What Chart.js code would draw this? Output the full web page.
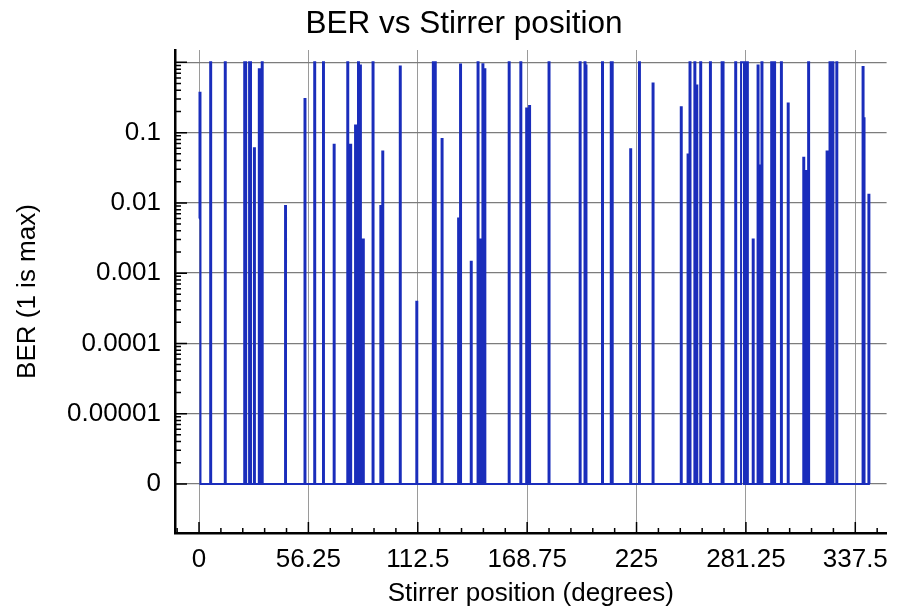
<!DOCTYPE html>
<html lang="en">
<head>
<meta charset="UTF-8">
<title>BER vs Stirrer position</title>
<script src="https://cdn.jsdelivr.net/npm/chart.js"></script>
<style>
    body { margin: 0; background: #fff; }
</style>
</head>
<body>
<canvas id="berChart" width="899" height="612"></canvas>
<script>
// the stirrer was stepped in half degrees; spikes, every other step has BER = 0
const spikePositions = [0, 0.5, 6, 13.5, 23.5, 24, 26, 26.5, 28.5, 31, 32.5, 44.5, 54.5, 59.5, 64, 69.5, 76.5, 78,
    80.5, 82, 83, 84.5, 89.5, 93.5, 94.5, 103.5, 112, 120.5, 121.5, 125, 133.5, 134.5, 140, 143.5, 145, 146, 147,
    159.5, 165.5, 168.5, 170, 180, 196, 198.5, 199, 207.5, 212, 212.5, 222, 226.5, 233.5, 248, 251.5, 252.5,
    255, 256, 258, 263, 269, 269.5, 276, 279, 279.5, 280, 281.5, 282, 285, 287.5, 288.5, 289.5, 294.5, 295.5, 296,
    299.5, 303, 311, 312, 313.5, 323, 324.5, 326, 328, 341.5, 342, 344.5];
const spikeBer = [0.006, 0.37, 1, 1, 1, 1, 1, 1, 0.06, 0.8, 1, 0.009, 0.3, 1, 1, 0.067, 1, 0.067,
    0.126, 1, 0.9, 0.003, 1, 0.009, 0.054, 0.87, 0.00039, 1, 1, 0.081, 0.006, 0.93, 0.00145, 1, 0.003, 0.94, 0.8,
    1, 1, 0.22, 0.24, 1, 1, 1, 0.9, 1, 1, 1, 0.058, 1, 0.5, 0.23, 0.049, 1,
    1, 0.47, 1, 1, 1, 1, 1, 1, 1, 1, 1, 1, 0.003, 0.9, 0.034, 1, 1, 1, 1,
    1, 0.26, 0.044, 0.0285, 1, 0.054, 1, 1, 1, 0.86, 0.16, 0.013];
const stepDeg = 0.5;
const lastPosition = 345;

const xTickValues = [0, 56.25, 112.5, 168.75, 225, 281.25, 337.5];
const yTickValues = [1e-6, 1e-5, 1e-4, 1e-3, 1e-2, 1e-1, 1];
const yTickLabels = ['0', '0.00001', '0.0001', '0.001', '0.01', '0.1', ''];
const ZERO_LEVEL = 1e-6; // BER = 0 is drawn on this line of the log axis

const FONT = "'Liberation Sans', Arial, Helvetica, sans-serif";

const berData = [];
for (let i = 0; i * stepDeg <= lastPosition; i++) {
    const p = i * stepDeg;
    const k = spikePositions.indexOf(p);
    berData.push({ x: p, y: k >= 0 ? spikeBer[k] : 0 });
}

// ticks pointing into the plot + the title
const innerTicks = {
    id: 'innerTicks',
    afterDraw(chart) {
        const { ctx, chartArea: a, scales: { x, y } } = chart;
        ctx.save();
        ctx.strokeStyle = '#000';
        ctx.lineWidth = 1.5;
        ctx.beginPath();
        yTickValues.forEach(dec => {
            const py = y.getPixelForValue(dec);
            ctx.moveTo(a.left, py);
            ctx.lineTo(a.left + 12, py);
            if (dec < 1) {
                for (let m = 2; m <= 9; m++) {
                    const my = y.getPixelForValue(dec * m);
                    ctx.moveTo(a.left, my);
                    ctx.lineTo(a.left + 6, my);
                }
            }
        });
        const step = xTickValues[1] / 5;
        for (let k = Math.ceil(x.min / step); k * step <= x.max; k++) {
            const px = x.getPixelForValue(k * step);
            const len = k % 5 === 0 ? 11 : 5;
            ctx.moveTo(px, a.bottom);
            ctx.lineTo(px, a.bottom - len);
        }
        ctx.stroke();

        ctx.fillStyle = '#000';
        ctx.font = '31.5px ' + FONT;
        ctx.textAlign = 'center';
        ctx.textBaseline = 'alphabetic';
        ctx.fillText('BER vs Stirrer position', 464, 33);
        ctx.restore();
    }
};

const ctx = document.getElementById('berChart').getContext('2d');
const berChart = new Chart(ctx, {
    type: 'line',
    data: {
        datasets: [{
            label: 'BER',
            data: berData.map(d => ({ x: d.x, y: Math.max(d.y, ZERO_LEVEL) })),
            borderColor: '#1a2dbb',
            borderWidth: 2,
            pointRadius: 0,
            stepped: 'middle',
            fill: false
        }]
    },
    options: {
        responsive: false,
        animation: false,
        layout: { padding: { top: 50, right: 4, left: 0, bottom: 0 } },
        plugins: {
            legend: { display: false },
            tooltip: { enabled: false },
            title: { display: false }
        },
        scales: {
            x: {
                type: 'linear',
                min: -12.35,
                max: 353.6,
                afterBuildTicks: s => { s.ticks = xTickValues.map(v => ({ value: v })); },
                afterFit: s => { s.height = 79; },
                grid: { color: '#9a9a9a', lineWidth: 1, drawTicks: false },
                border: { color: '#000', width: 2.5 },
                ticks: {
                    padding: 11,
                    color: '#000',
                    maxRotation: 0,
                    autoSkip: false,
                    font: { family: FONT, size: 26 },
                    callback: v => String(v)
                },
                title: {
                    display: true,
                    text: 'Stirrer position (degrees)',
                    color: '#000',
                    font: { family: FONT, size: 26 },
                    padding: { top: 0, bottom: 3 }
                }
            },
            y: {
                type: 'logarithmic',
                min: 2e-7,
                max: 1.5,
                afterBuildTicks: s => { s.ticks = yTickValues.map(v => ({ value: v })); },
                afterFit: s => { s.width = 175; },
                grid: { color: '#7c7c7c', lineWidth: 1.3, drawTicks: false },
                border: { color: '#000', width: 2.5 },
                ticks: {
                    padding: 14,
                    color: '#000',
                    autoSkip: false,
                    font: { family: FONT, size: 26 },
                    callback: (v, i) => yTickLabels[i]
                },
                title: {
                    display: true,
                    text: 'BER (1 is max)',
                    color: '#000',
                    font: { family: FONT, size: 26 },
                    padding: { top: 12, bottom: 0 }
                }
            }
        }
    },
    plugins: [innerTicks]
});
</script>
</body>
</html>
